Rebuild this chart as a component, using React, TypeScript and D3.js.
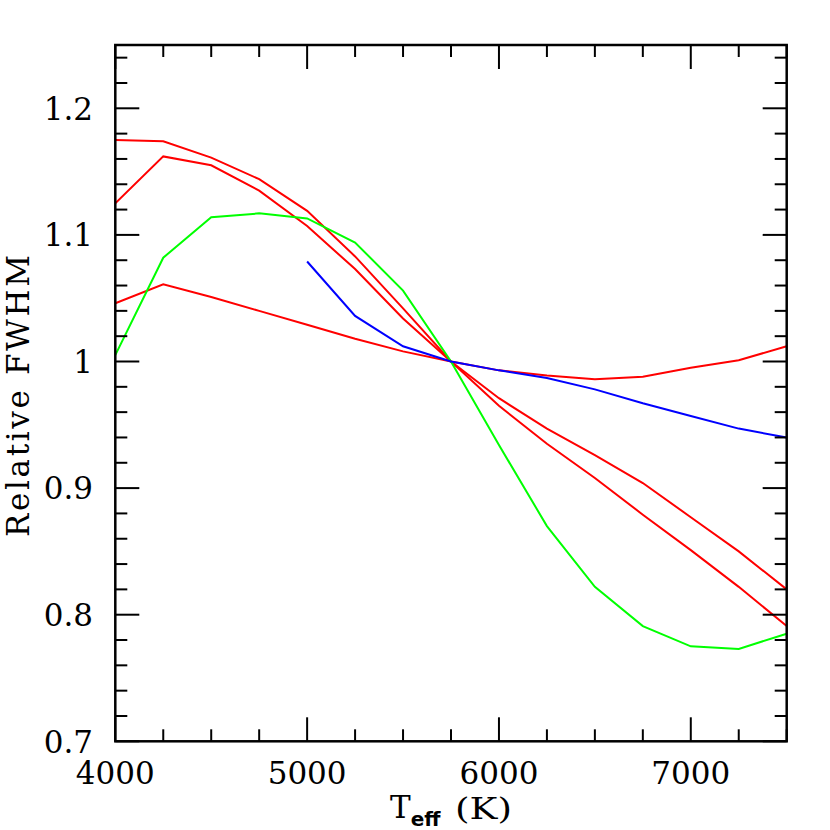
import React from "react";
import * as d3 from "d3";

const teff = [4000, 4250, 4500, 4750, 5000, 5250, 5500, 5750, 6000, 6250, 6500, 6750, 7000, 7250, 7500];
const redA = [1.175, 1.174, 1.161, 1.144, 1.119, 1.083, 1.042, 1.0, 0.971, 0.947, 0.926, 0.904, 0.877, 0.85, 0.82];
const redB = [1.125, 1.162, 1.155, 1.135, 1.107, 1.073, 1.034, 1.0, 0.965, 0.935, 0.908, 0.879, 0.851, 0.822, 0.791];
const redC = [1.046, 1.061, 1.051, 1.04, 1.029, 1.018, 1.008, 1.0, 0.993, 0.989, 0.986, 0.988, 0.995, 1.001, 1.012];
const greenV = [1.005, 1.082, 1.114, 1.117, 1.113, 1.094, 1.056, 1.0, 0.934, 0.87, 0.822, 0.791, 0.775, 0.773, 0.785];
const blueTeff = [5000, 5250, 5500, 5750, 6000, 6250, 6500, 6750, 7000, 7250, 7500];
const blueV = [1.079, 1.036, 1.012, 1.0, 0.993, 0.987, 0.978, 0.967, 0.957, 0.947, 0.94];

const xMajor = [4000, 5000, 6000, 7000];
const xLabels = ["4000", "5000", "6000", "7000"];
const yMajor = [0.7, 0.8, 0.9, 1.0, 1.1, 1.2];
const yLabels = ["0.7", "0.8", "0.9", "1", "1.1", "1.2"];

const L = 115.3, R = 786.7, T = 45, B = 741.3;
const FONT = "'DejaVu Serif', serif";

export default function App() {
  const x = d3.scaleLinear().domain([4000, 7500]).range([L, R]);
  const y = d3.scaleLinear().domain([0.7, 1.25]).range([B, T]);
  const line = d3.line<[number, number]>().x(d => x(d[0])).y(d => y(d[1]));
  const series = [
    { xs: teff, ys: redA, c: "#ff0000" },
    { xs: teff, ys: redB, c: "#ff0000" },
    { xs: teff, ys: redC, c: "#ff0000" },
    { xs: teff, ys: greenV, c: "#00ff00" },
    { xs: blueTeff, ys: blueV, c: "#0000ff" },
  ];
  const xMinor = d3.range(4000, 7500.1, 250);
  const yMinor = d3.range(0, 28).map(i => 0.7 + i * 0.02);
  const isMajorX = (v: number) => Math.abs(v % 1000) < 1e-6;
  const isMajorY = (v: number) => Math.abs(Math.round(v * 10) - v * 10) < 1e-6;
  const tickStroke = { stroke: "#000", strokeWidth: 2 };
  return (
    <svg width={830} height={830} style={{ position: "absolute", left: 0, top: 0, background: "#fff" }}>
      <rect x={0} y={0} width={830} height={830} fill="#fff" />
      <defs>
        <clipPath id="clip"><rect x={L} y={T} width={R - L} height={B - T} /></clipPath>
      </defs>
      <g clipPath="url(#clip)">
        {series.map((s, i) => (
          <path key={i} d={line(s.xs.map((v, j) => [v, s.ys[j]]) as [number, number][]) || ""} fill="none" stroke={s.c} strokeWidth={2} />
        ))}
      </g>
      {xMinor.map((v, i) => {
        const len = isMajorX(v) ? 24 : 12;
        return (
          <g key={"xt" + i}>
            <line x1={x(v)} x2={x(v)} y1={B} y2={B - len} {...tickStroke} />
            <line x1={x(v)} x2={x(v)} y1={T} y2={T + len} {...tickStroke} />
          </g>
        );
      })}
      {yMinor.map((v, i) => {
        const len = isMajorY(v) ? 24 : 12;
        return (
          <g key={"yt" + i}>
            <line x1={L} x2={L + len} y1={y(v)} y2={y(v)} {...tickStroke} />
            <line x1={R} x2={R - len} y1={y(v)} y2={y(v)} {...tickStroke} />
          </g>
        );
      })}
      <rect x={L} y={T} width={R - L} height={B - T} fill="none" stroke="#000" strokeWidth={2.5} />
      {xMajor.map((v, i) => (
        <text key={"xl" + i} x={x(v)} y={784} textAnchor="middle" fontFamily={FONT} fontSize={31} fill="#000">{xLabels[i]}</text>
      ))}
      {yMajor.map((v, i) => (
        <text key={"yl" + i} x={93} y={y(v) + 11.3} textAnchor="end" fontFamily={FONT} fontSize={31} fill="#000">{yLabels[i]}</text>
      ))}
      <text x={390} y={818} fontFamily={FONT} fontSize={31} fill="#000">
        T<tspan fontFamily="'DejaVu Sans', sans-serif" fontWeight="bold" fontSize={20} dy={8}>eff</tspan>
      </text>
      <text x={455} y={819} fontFamily={FONT} fontSize={29} fill="#000" textLength={57} lengthAdjust="spacingAndGlyphs">(K)</text>
      <text transform={`translate(29, 396) rotate(-90)`} textAnchor="middle" fontFamily={FONT} fontSize={31} fill="#000" textLength={282} lengthAdjust="spacing">Relative FWHM</text>
    </svg>
  );
}
